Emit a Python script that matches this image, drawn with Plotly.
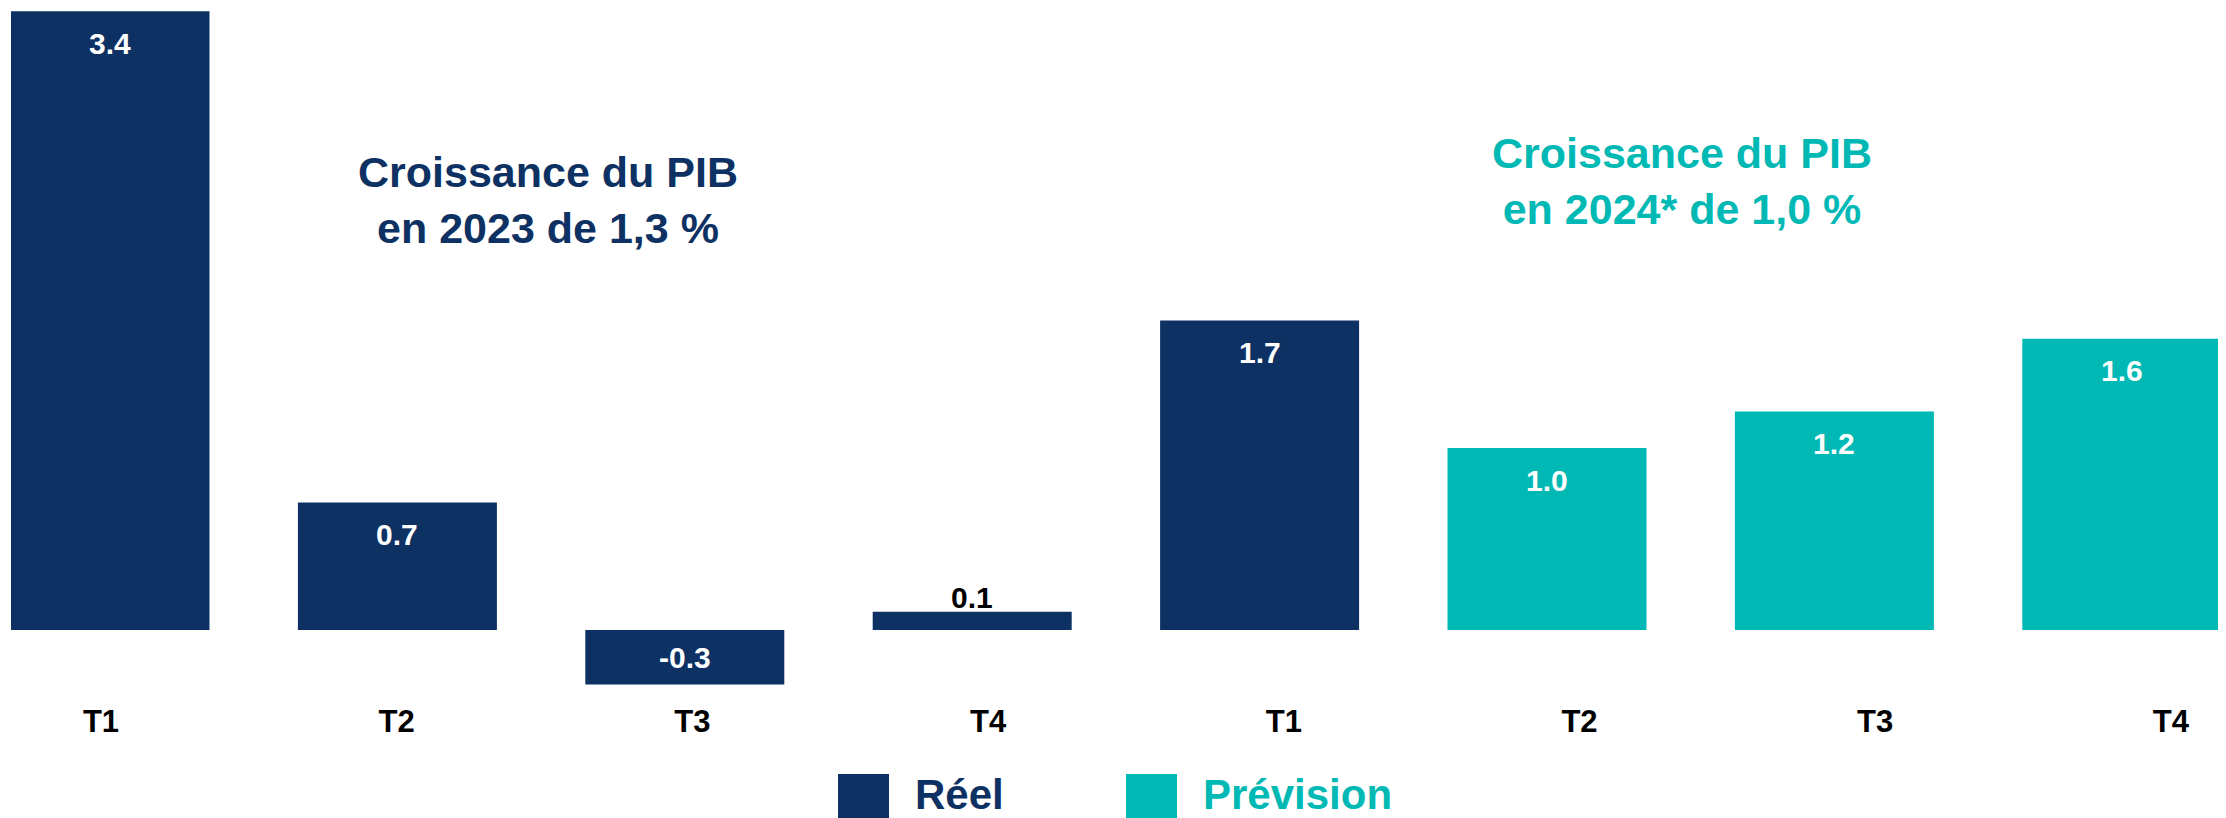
import plotly.graph_objects as go

quarters = ["T1", "T2", "T3", "T4", "T1", "T2", "T3", "T4"]
values = [3.4, 0.7, -0.3, 0.1, 1.7, 1.0, 1.2, 1.6]
status = ["Réel", "Réel", "Réel", "Réel", "Réel", "Prévision", "Prévision", "Prévision"]
series_names = ["Réel", "Prévision"]
series_colors = {"Réel": "#0E3163", "Prévision": "#00B9B5"}
titles = ["Croissance du PIB<br>en 2023 de 1,3 %", "Croissance du PIB<br>en 2024* de 1,0 %"]

FONT = "Liberation Sans, Arial, sans-serif"
OFF = 8                       # page body margin in the browser
WIN_W, WIN_H = 2226, 818
W, H = WIN_W - OFF, WIN_H - OFF
PLOT_L, PLOT_R, PLOT_T, PLOT_B = 11, 2226, 8, 700   # plot area in window pixels
ML, MR, MT, MB = PLOT_L - OFF, WIN_W - PLOT_R, PLOT_T - OFF, WIN_H - PLOT_B
PW, PH = PLOT_R - PLOT_L, PLOT_B - PLOT_T

ZERO_PX, PX_PER_UNIT = 630, 182
BAR0_PX, BAR_PITCH = 110, 287.4
LBL0_PX, LBL_PITCH = 101, 295.7

fig = go.Figure()
pos = list(range(len(values)))
for name in series_names:
    xs = [i for i in pos if status[i] == name]
    ys = [values[i] for i in pos if status[i] == name]
    fig.add_trace(go.Bar(x=xs, y=ys, name=name, width=199 / BAR_PITCH,
                         marker=dict(color=series_colors[name], line=dict(width=0)),
                         showlegend=False, hoverinfo="skip"))

# invisible carrier so the category-label axis is drawn
fig.add_trace(go.Scatter(x=pos, y=[0] * len(pos), xaxis="x2", mode="markers",
                         marker=dict(opacity=0, size=1), showlegend=False, hoverinfo="skip"))

# value labels
for i, v in enumerate(values):
    txt = f"{v:.1f}"
    if v < 0:
        y, ys, col = v / 2, 0, "white"
    elif v < 0.3:
        y, ys, col = v, 14, "black"
    else:
        y, ys, col = v, -32, "white"
    fig.add_annotation(x=i, y=y, xref="x", yref="y", text=txt, showarrow=False,
                       yshift=ys, yanchor="middle",
                       font=dict(family=FONT, size=30, color=col, weight="bold"))

# titles
fig.add_annotation(x=(548 - BAR0_PX) / BAR_PITCH, y=(ZERO_PX - 200) / PX_PER_UNIT,
                   xref="x", yref="y", text=titles[0], showarrow=False,
                   font=dict(family=FONT, size=43, color=series_colors["Réel"], weight="bold"))
fig.add_annotation(x=(1682 - BAR0_PX) / BAR_PITCH, y=(ZERO_PX - 181) / PX_PER_UNIT,
                   xref="x", yref="y", text=titles[1], showarrow=False,
                   font=dict(family=FONT, size=43, color=series_colors["Prévision"], weight="bold"))

# custom legend (large squares)
def px2paper_x(px):
    return (px - PLOT_L) / PW

def px2paper_y(py):
    return (PLOT_B - py) / PH

legend_items = [("Réel", 838, 913), ("Prévision", 1126, 1201)]
for name, sq_x, tx in legend_items:
    fig.add_shape(type="rect", xref="paper", yref="paper",
                  x0=px2paper_x(sq_x), x1=px2paper_x(sq_x + 51),
                  y0=px2paper_y(774), y1=px2paper_y(830),
                  fillcolor=series_colors[name], line=dict(width=0))
    fig.add_annotation(x=px2paper_x(tx), y=px2paper_y(794), xref="paper", yref="paper",
                       text=name, showarrow=False, xanchor="left", yanchor="middle",
                       height=44, valign="middle",
                       font=dict(family=FONT, size=42, color=series_colors[name], weight="bold"))

fig.update_layout(
    width=W, height=H,
    margin=dict(l=ML, r=MR, t=MT, b=MB, pad=0),
    paper_bgcolor="white", plot_bgcolor="white",
    barmode="overlay",
    showlegend=False,
    xaxis=dict(range=[(PLOT_L - BAR0_PX) / BAR_PITCH, (PLOT_R - BAR0_PX) / BAR_PITCH],
               showticklabels=False, showgrid=False, zeroline=False, showline=False, ticks=""),
    xaxis2=dict(range=[(PLOT_L - LBL0_PX) / LBL_PITCH, (PLOT_R - LBL0_PX) / LBL_PITCH],
                overlaying="x", anchor="y", side="bottom",
                tickmode="array", tickvals=pos, ticktext=quarters,
                showgrid=False, zeroline=False, showline=False, ticks="",
                tickfont=dict(family=FONT, size=31, color="black", weight="bold")),
    yaxis=dict(range=[-(PLOT_B - ZERO_PX) / PX_PER_UNIT, (ZERO_PX - PLOT_T) / PX_PER_UNIT],
               visible=False, showgrid=False, zeroline=False),
)

fig.write_html("out.html")
